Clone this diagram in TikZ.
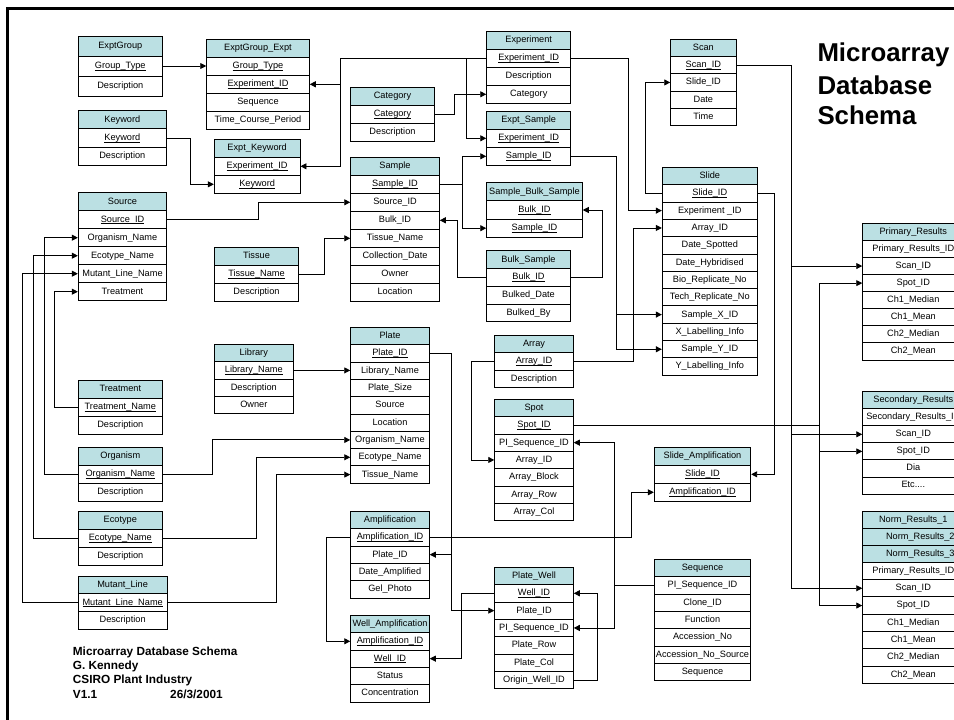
\documentclass[tikz,border=0pt]{standalone}
\usepackage{fontspec}
\setmainfont{Liberation Sans}
\usetikzlibrary{arrows.meta}
\definecolor{hdrcol}{HTML}{BBE0E3}
% underlined key field
\newcommand\ulfld[1]{\setbox0\hbox{#1}\rlap{\rule[-1.7pt]{\wd0}{0.6pt}}\box0}
\newcommand\etcdots{Etc....}
\tikzset{
  tbl/.style={draw=black, line width=0.9pt, inner sep=0pt, text height=6.7pt, text depth=1.9pt,
              font=\fontsize{9.2}{11}\selectfont},
  hdr/.style={tbl, fill=hdrcol},
  fld/.style={tbl, fill=white},
  conn/.style={draw=black, line width=0.9pt},
  arr/.style={-{Triangle[length=6pt,width=6pt]}},
}
% table header: name, left x, top y, width, height, text
\newcommand\dbhead[6]{\node[hdr, minimum width=#4, minimum height=#5] (#1) at ({#2+#4/2},{#3+#5/2}) {#6};}
% table rows: name, left x, top y, width, row height, list of rows
\newcommand\dbrows[6]{\foreach \rowtxt [count=\ri] in {#6} {%
  \node[fld, minimum width=#4, minimum height=#5] (#1-\ri) at ({#2+#4/2},{#3+#5/2+(\ri-1)*#5}) {\rowtxt};}}
\newcommand\dbtab[7]{\dbhead{#1-0}{#2}{#3}{#4}{#5}{#6}\dbrows{#1}{#2}{#3+#5}{#4}{#5}{#7}}

\begin{document}
\begin{tikzpicture}[x=1pt,y=-1pt]
\useasboundingbox (0,0) rectangle (954,720);
\fill[white] (0,0) rectangle (954,720);
\clip (0,0) rectangle (954,720);

% frame
\draw[line width=3pt] (7.5,740) -- (7.5,8.2) -- (970,8.2);

% tables
\dbtab{ExptGroup}{78.3}{36}{84}{20}{ExptGroup}{\ulfld{Group\_Type},Description}
\dbtab{EGE}{206.7}{39.3}{102.6}{18}{ExptGroup\_Expt}{\ulfld{Group\_Type},\ulfld{Experiment\_ID},Sequence,Time\_Course\_Period}
\dbtab{Keyword}{78.3}{110.7}{88}{18.2}{Keyword}{\ulfld{Keyword},Description}
\dbtab{EK}{214.3}{139.3}{85.7}{18}{Expt\_Keyword}{\ulfld{Experiment\_ID},\ulfld{Keyword}}
\dbtab{Source}{78.3}{192.7}{88.4}{18}{Source}{\ulfld{Source\_ID},Organism\_Name,Ecotype\_Name,Mutant\_Line\_Name,Treatment}
\dbtab{Tissue}{214.3}{247.3}{84.4}{18}{Tissue}{\ulfld{Tissue\_Name},Description}
\dbtab{Library}{214.3}{344.3}{79}{17.4}{Library}{\ulfld{Library\_Name},Description,Owner}
\dbtab{Treatment}{78.3}{380}{84}{18}{Treatment}{\ulfld{Treatment\_Name},Description}
\dbtab{Organism}{78.3}{447.3}{84}{18}{Organism}{\ulfld{Organism\_Name},Description}
\dbtab{Ecotype}{78.3}{511.3}{84}{18}{Ecotype}{\ulfld{Ecotype\_Name},Description}
\dbtab{Mutant}{78.3}{576}{88.7}{17.8}{Mutant\_Line}{\ulfld{Mutant\_Line\_Name},Description}
\dbtab{Category}{350.7}{87.3}{83.6}{18}{Category}{\ulfld{Category},Description}
\dbtab{Sample}{350.7}{157.3}{88.6}{18}{Sample}{\ulfld{Sample\_ID},Source\_ID,Bulk\_ID,Tissue\_Name,Collection\_Date,Owner,Location}
\dbtab{Plate}{350.7}{327.3}{78.6}{17.33}{Plate}{\ulfld{Plate\_ID},Library\_Name,Plate\_Size,Source,Location,Organism\_Name,Ecotype\_Name,Tissue\_Name}
\dbtab{Amp}{350.7}{511.3}{78.6}{17.33}{Amplification}{\ulfld{Amplification\_ID},Plate\_ID,Date\_Amplified,Gel\_Photo}
\dbtab{WellAmp}{350.7}{615.3}{78.6}{17.33}{Well\_Amplification}{\ulfld{Amplification\_ID},\ulfld{Well\_ID},Status,Concentration}
\dbtab{Experiment}{486.7}{31.3}{84}{18}{Experiment}{\ulfld{Experiment\_ID},Description,Category}
\dbtab{ES}{486.7}{111.3}{84}{18}{Expt\_Sample}{\ulfld{Experiment\_ID},\ulfld{Sample\_ID}}
\dbtab{SBS}{486.7}{182.7}{95.6}{18.2}{Sample\_Bulk\_Sample}{\ulfld{Bulk\_ID},\ulfld{Sample\_ID}}
\dbtab{Bulk}{486.7}{250.7}{83.6}{17.8}{Bulk\_Sample}{\ulfld{Bulk\_ID},Bulked\_Date,Bulked\_By}
\dbtab{Array}{494.7}{335.3}{78.6}{17.33}{Array}{\ulfld{Array\_ID},Description}
\dbtab{Spot}{494.7}{399.3}{78.6}{17.33}{Spot}{\ulfld{Spot\_ID},PI\_Sequence\_ID,Array\_ID,Array\_Block,Array\_Row,Array\_Col}
\dbtab{PW}{494.7}{567.3}{78.6}{17.33}{Plate\_Well}{\ulfld{Well\_ID},Plate\_ID,PI\_Sequence\_ID,Plate\_Row,Plate\_Col,Origin\_Well\_ID}
\dbtab{Scan}{670.7}{39.2}{65.3}{17.3}{Scan}{\ulfld{Scan\_ID},Slide\_ID,Date,Time}
\dbtab{Slide}{662.3}{167.3}{95}{17.33}{Slide}{\ulfld{Slide\_ID},Experiment \_ID,Array\_ID,Date\_Spotted,Date\_Hybridised,Bio\_Replicate\_No,Tech\_Replicate\_No,Sample\_X\_ID,X\_Labelling\_Info,Sample\_Y\_ID,Y\_Labelling\_Info}
\dbtab{SlideAmp}{654.3}{447.3}{96.4}{18}{Slide\_Amplification}{\ulfld{Slide\_ID},\ulfld{Amplification\_ID}}
\dbtab{Seq}{654.3}{559.3}{96.4}{17.33}{Sequence}{PI\_Sequence\_ID,Clone\_ID,Function,Accession\_No,Accession\_No\_Source,Sequence}
\dbtab{Prim}{862.7}{223.3}{101.2}{17.09}{Primary\_Results}{Primary\_Results\_ID,Scan\_ID,Spot\_ID,Ch1\_Median,Ch1\_Mean,Ch2\_Median,Ch2\_Mean}
\dbtab{Sec}{862.7}{391.7}{101.2}{17.05}{Secondary\_Results}{Secondary\_Results\_ID,Scan\_ID,Spot\_ID,Dia,\etcdots}
\dbhead{Norm-0}{862.7}{511.3}{101.2}{17}{Norm\_Results\_1}
\dbhead{Norm-h2}{862.7}{528.3}{101.2}{17}{\hspace*{14pt}Norm\_Results\_2}
\dbhead{Norm-h3}{862.7}{545.3}{101.2}{17}{\hspace*{14pt}Norm\_Results\_3}
\dbrows{Norm}{862.7}{562.3}{101.2}{17.3}{Primary\_Results\_ID,Scan\_ID,Spot\_ID,Ch1\_Median,Ch1\_Mean,Ch2\_Median,Ch2\_Mean}

% vertical routing channels
\coordinate (cKw) at (190.7,0);
\coordinate (cEx) at (340,0);
\coordinate (cEs) at (466,0);
\coordinate (cCat) at (454.3,0);
\coordinate (cSrc) at (258.3,0);
\coordinate (cTis) at (324.3,0);
\coordinate (cSid) at (462.7,0);
\coordinate (cBulkL) at (457.3,0);
\coordinate (cBulkR) at (602.7,0);
\coordinate (cExpSl) at (628.3,0);
\coordinate (cSamSl) at (616,0);
\coordinate (cArrSl) at (633.7,0);
\coordinate (cArrSp) at (471,0);
\coordinate (cScanSl) at (645,0);
\coordinate (cScan) at (791,0);
\coordinate (cSpot) at (819.3,0);
\coordinate (cSlAmp) at (774,0);
\coordinate (cOrgL) at (44.3,0);
\coordinate (cEcoL) at (33.7,0);
\coordinate (cMutL) at (22,0);
\coordinate (cTrtL) at (54.3,0);
\coordinate (cOrgR) at (212,0);
\coordinate (cEcoR) at (256.7,0);
\coordinate (cMutR) at (276.7,0);
\coordinate (cPlate) at (451,0);
\coordinate (cAmpL) at (326.7,0);
\coordinate (cAmpR) at (631,0);
\coordinate (cWell) at (461.7,0);
\coordinate (cOrig) at (597,0);
\coordinate (cSeq) at (614,0);

% connectors
\draw[conn,arr] (ExptGroup-1.east) -- (ExptGroup-1.east -| EGE-1.west);
\draw[conn,arr] (Keyword-1.east) -- (Keyword-1.east -| cKw) |- (EK-2.west);
\draw[conn,arr] (Experiment-1.west) -- (Experiment-1.west -| cEx) |- (EK-1.east);
\draw[conn,arr] (cEx |- EGE-2.east) -- (EGE-2.east);
\draw[conn,arr] (cEs |- Experiment-1.west) |- (ES-1.west);
\draw[conn,arr] (Category-1.east) -- (Category-1.east -| cCat) |- (Experiment-3.west);
\draw[conn,arr] (Source-1.east) -- (Source-1.east -| cSrc) |- (Sample-2.west);
\draw[conn,arr] (Tissue-1.east) -- (Tissue-1.east -| cTis) |- (Sample-4.west);
\draw[conn] (Sample-1.east) -- (Sample-1.east -| cSid);
\draw[conn,arr] (cSid |- ES-2.west) -- (ES-2.west);
\draw[conn,arr] (cSid |- ES-2.west) -- (cSid |- SBS-2.west) -- (SBS-2.west);
\draw[conn,arr] (Bulk-1.west) -- (Bulk-1.west -| cBulkL) |- (Sample-3.east);
\draw[conn,arr] (Bulk-1.east) -- (Bulk-1.east -| cBulkR) |- (SBS-1.east);
\draw[conn,arr] (Experiment-1.east) -- (Experiment-1.east -| cExpSl) |- (Slide-2.west);
\draw[conn,arr] (ES-2.east) -- (ES-2.east -| cSamSl) |- (Slide-10.west);
\draw[conn,arr] (cSamSl |- Slide-8.west) -- (Slide-8.west);
\draw[conn,arr] (Array-1.east) -- (Array-1.east -| cArrSl) |- (Slide-3.west);
\draw[conn,arr] (Array-1.west) -- (Array-1.west -| cArrSp) |- (Spot-3.west);
\draw[conn,arr] (Slide-1.west) -- (Slide-1.west -| cScanSl) |- (Scan-2.west);
\draw[conn,arr] (Slide-1.east) -- (Slide-1.east -| cSlAmp) |- (SlideAmp-1.east);
\draw[conn,arr] (Scan-1.east) -- (Scan-1.east -| cScan) |- (Norm-2.west);
\draw[conn,arr] (cScan |- Prim-2.west) -- (Prim-2.west);
\draw[conn,arr] (cScan |- Sec-2.west) -- (Sec-2.west);
\draw[conn] (Spot-1.east) -- (Spot-1.east -| cSpot);
\draw[conn,arr] (cSpot |- Prim-3.west) -- (Prim-3.west);
\draw[conn,arr] (cSpot |- Prim-3.west) -- (cSpot |- Norm-3.west) -- (Norm-3.west);
\draw[conn,arr] (cSpot |- Sec-3.west) -- (Sec-3.west);
\draw[conn,arr] (Library-1.east) -- (Library-1.east -| Plate-2.west);
\draw[conn,arr] (Treatment-1.west) -- (Treatment-1.west -| cTrtL) |- (Source-5.west);
\draw[conn,arr] (Organism-1.west) -- (Organism-1.west -| cOrgL) |- (Source-2.west);
\draw[conn,arr] (Ecotype-1.west) -- (Ecotype-1.west -| cEcoL) |- (Source-3.west);
\draw[conn,arr] (Mutant-1.west) -- (Mutant-1.west -| cMutL) |- (Source-4.west);
\draw[conn,arr] (Organism-1.east) -- (Organism-1.east -| cOrgR) |- (Plate-6.west);
\draw[conn,arr] (Ecotype-1.east) -- (Ecotype-1.east -| cEcoR) |- (Plate-7.west);
\draw[conn,arr] (Mutant-1.east) -- (Mutant-1.east -| cMutR) |- (Plate-8.west);
\draw[conn,arr] (Plate-1.east) -- (Plate-1.east -| cPlate) |- (PW-2.west);
\draw[conn,arr] (cPlate |- Amp-2.east) -- (Amp-2.east);
\draw[conn,arr] (Amp-1.west) -- (Amp-1.west -| cAmpL) |- (WellAmp-1.west);
\draw[conn,arr] (Amp-1.east) -- (Amp-1.east -| cAmpR) |- (SlideAmp-2.west);
\draw[conn,arr] (PW-1.west) -- (PW-1.west -| cWell) |- (WellAmp-2.east);
\draw[conn,arr] (PW-6.east) -- (PW-6.east -| cOrig) |- (PW-1.east);
\draw[conn,arr] (Seq-1.west) -- (Seq-1.west -| cSeq) |- (Spot-2.east);
\draw[conn,arr] (cSeq |- Seq-1.west) |- (PW-3.east);

% title
\begin{scope}[every node/.style={anchor=base west, inner sep=0pt, font=\bfseries\fontsize{25.8}{30}\selectfont}]
\node (title1) at (817.3,61.7) {Microarray};
\node (title2) at (817.3,94.3) {Database};
\node (title3) at (817.3,124.2) {Schema};
\end{scope}

% credits
\begin{scope}[every node/.style={anchor=base west, inner sep=0pt, font=\bfseries\fontsize{11.8}{14}\selectfont}]
\node (cr1) at (72.7,655.3) {Microarray Database Schema};
\node (cr2) at (72.7,669) {G. Kennedy};
\node (cr3) at (72.7,683.3) {CSIRO Plant Industry};
\node (cr4) at (72.7,698.3) {V1.1};
\node (cr5) at (170,698.3) {26/3/2001};
\end{scope}
\end{tikzpicture}
\end{document}
